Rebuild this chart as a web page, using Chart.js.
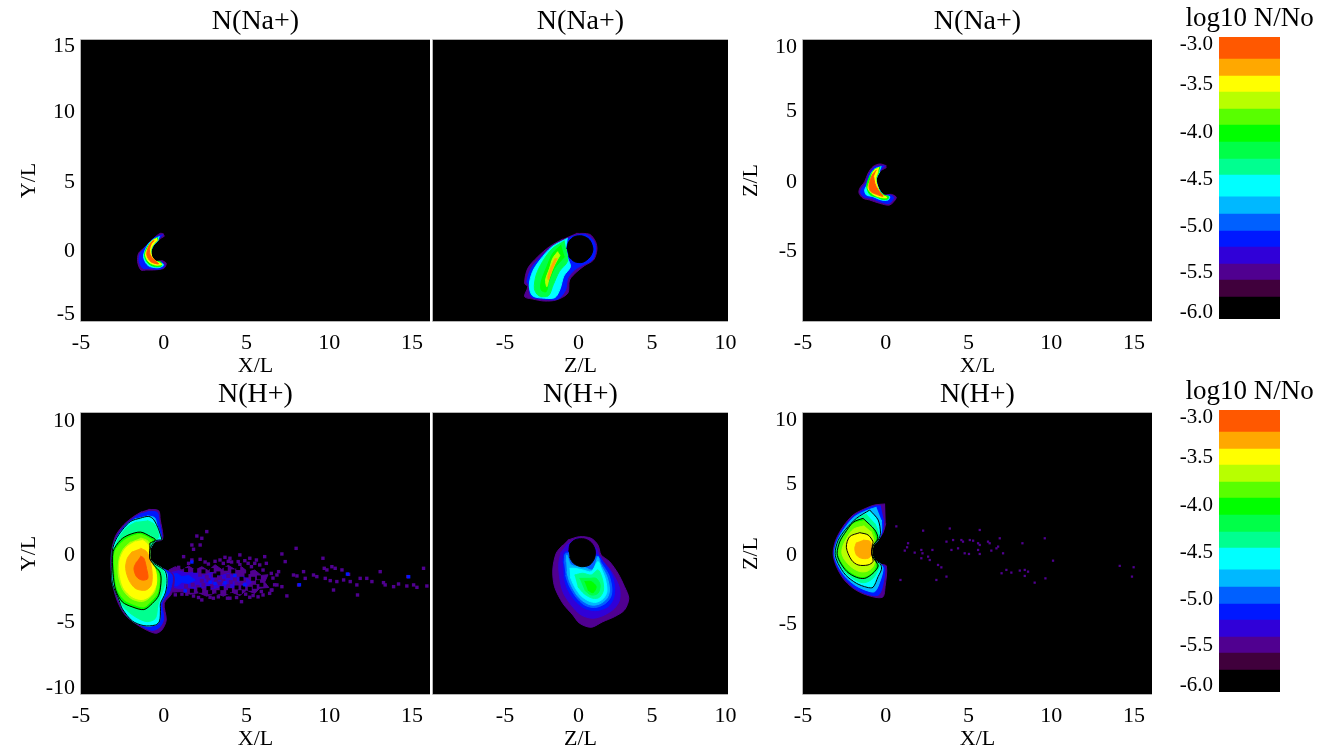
<!DOCTYPE html>
<html>
<head>
<meta charset="utf-8">
<title>N/No</title>
<script src="https://cdn.jsdelivr.net/npm/chart.js"></script>
<style>
  html, body { margin: 0; padding: 0; background: #fff; }
  body { position: relative; width: 1343px; height: 753px; overflow: hidden; }
  canvas { position: absolute; }
</style>
</head>
<body>
<script>
// colour table, bottom of the bar to the top
const levelColors = ['#000000', '#40003c', '#500090', '#3000d8', '#0018ff', '#0060ff', '#00b8ff', '#00ffff',
  '#00ff90', '#00ff48', '#00ff00', '#58ff00', '#b8ff00', '#ffff00', '#ffa800', '#ff5800'];
const levelEdges = [-6, -5.766, -5.585, -5.415, -5.234, -5.064, -4.883, -4.70, -4.468, -4.298, -4.117, -3.936,
  -3.766, -3.585, -3.415, -3.234, -3];
const barTicks = [-3.08, -3.51, -4.02, -4.52, -5.02, -5.51, -5.93];
const barLabels = ['-3.0', '-3.5', '-4.0', '-4.5', '-5.0', '-5.5', '-6.0'];

const xTicksLong = [-5, 0, 5, 10, 15];
const xLabelsLong = ['-5', '0', '5', '10', '15'];
const xTicksZ = [-5, 0, 5, 10];
const xLabelsZ = ['-5', '0', '5', '10'];
const yTicksNa = [15.18, 10.25, 5.03, -0.1, -4.82];
const yLabelsNa = ['15', '10', '5', '0', '-5'];
const yTicksZ = [9.95, 5.18, -0.1, -5.27];
const yLabelsZ = ['10', '5', '0', '-5'];
const yTicksH = [9.88, 5.1, -0.1, -5.12, -10.05];
const yLabelsH = ['10', '5', '0', '-5', '-10'];

// ---- N(Na+) X/Y ----
const naXY1 = [[0,1.19],[-.21,1.24],[-.61,.87],[-.92,.5],[-1.22,.12],[-1.52,-.25],[-1.58,-.87],[-1.38,-1.49],[-1.02,-1.49],[-.61,-1.49],[0,-1.37],[.15,-1],[-.11,-.8],[-.51,-.87],[-.72,-.62],[-.78,-.12],[-.61,.37],[-.31,.75],[.05,1.04]];
const naXY4 = [[-.05,1.14],[-.51,.95],[-.82,.62],[-1.18,.12],[-1.42,-.25],[-1.48,-.87],[-1.26,-1.37],[-.92,-1.37],[-.31,-1.44],[.03,-1.24],[-.11,-.9],[-.51,-.92],[-.72,-.62],[-.78,-.12],[-.61,.37],[-.31,.75]];
const naXY7 = [[-.25,1],[-.61,.8],[-.92,.45],[-1.12,0],[-1.22,-.5],[-1.06,-1],[-.82,-1.24],[-.31,-1.32],[-.01,-1.12],[-.25,-.92],[-.51,-.87],[-.74,-.5],[-.78,-.12],[-.61,.37],[-.31,.75]];
const naXY10 = [[-.37,.93],[-.68,.72],[-1,.2],[-1.16,-.4],[-.98,-.95],[-.6,-1.22],[-.15,-1.2],[-.2,-.87],[-.51,-.83],[-.73,-.5],[-.78,-.1],[-.63,.37],[-.33,.75]];
const naXY13 = [[-.41,.87],[-.71,.67],[-.98,.12],[-1.1,-.37],[-.92,-.87],[-.51,-1.12],[-.11,-1.07],[-.51,-.8],[-.71,-.5],[-.78,-.05],[-.65,.37],[-.37,.75]];
const naXY15 = [[-.65,.7],[-.92,.25],[-1.02,-.37],[-.78,-.87],[-.31,-1.04],[-.61,-.7],[-.82,-.37],[-.86,.05],[-.74,.5],[-.57,.7]];

// ---- N(Na+) Z/Y ----
const naZY1 = [[-.16,1.24],[.75,1.17],[1.16,.62],[1.25,0],[1.02,-.75],[.41,-1.17],[-.11,-1.62],[-.61,-2.24],[-.73,-3.23],[-1.52,-3.73],[-2.31,-3.81],[-3.11,-3.66],[-3.67,-3.48],[-3.45,-2.74],[-3.67,-2.49],[-3.45,-1.37],[-2.77,-.5],[-1.97,.25],[-1.07,.82]];
const naZY4 = [[-.5,1],[.41,1.17],[1.02,.67],[1.16,0],[.93,-.75],[.29,-1.12],[-.27,-1.49],[-.73,-2.11],[-.88,-2.99],[-1.41,-3.66],[-2.43,-3.66],[-3.22,-3.48],[-3.38,-2.61],[-3.51,-2.36],[-3.22,-1.37],[-2.65,-.62],[-1.86,.17],[-.95,.75]];
const naZY7 = [[-.73,.88],[-1.8,.25],[-2.62,-.75],[-3.12,-1.6],[-3.35,-2.65],[-3.12,-3.42],[-2.31,-3.6],[-1.6,-3.55],[-1.25,-2.9],[-1,-1.95],[-.55,-1.25],[-.73,-.62],[-.84,.07]];
const naZY9 = [[-.95,.68],[-1.8,.08],[-2.45,-.87],[-2.88,-1.87],[-3,-2.9],[-2.7,-3.42],[-2.05,-3.42],[-1.72,-2.6],[-1.3,-1.6],[-.75,-.85],[-.84,.07]];
const naZY10 = [[-1.18,.37],[-1.75,-.25],[-2.15,-1.24],[-2.54,-2.36],[-2.54,-2.99],[-2.2,-3.11],[-2.02,-2.36],[-1.63,-1.37],[-.95,-.5]];
const naZY12 = [[-1.41,-.12],[-1.75,-.62],[-1.97,-1.37],[-2.24,-2.24],[-2.15,-2.74],[-1.97,-1.99],[-1.63,-1.12],[-1.25,-.37]];
const naZY14 = [[-1.59,-.62],[-1.86,-1.24],[-2.09,-1.99],[-2.04,-2.24],[-1.75,-1.37],[-1.45,-.62]];
const naZYhole = [[-.79,.07],[-.66,.62],[-.27,1],[.29,1.04],[.75,.75],[.98,.07],[.79,-.5],[.29,-.92],[-.27,-.87],[-.66,-.5]];

// ---- N(Na+) X/Z ----
const naXZ1 = [[.04,1.14],[-.36,1.27],[-.77,1.07],[-1.07,.57],[-1.27,-.05],[-1.57,-.55],[-1.61,-.92],[-1.37,-1.29],[-.97,-1.42],[-.36,-1.67],[.24,-1.79],[.64,-1.24],[.34,-1],[-.06,-1.04],[-.32,-.8],[-.52,-.3],[-.56,.2],[-.36,.7],[.04,1]];
const naXZ4 = [[-.06,1.12],[-.66,1.04],[-1.01,.5],[-1.17,-.1],[-1.47,-.6],[-1.51,-.92],[-1.27,-1.22],[-.87,-1.29],[-.36,-1.54],[.2,-1.67],[.48,-1.24],[.24,-1.04],[-.06,-1.09],[-.32,-.8],[-.52,-.3],[-.56,.2],[-.36,.7]];
const naXZ7 = [[-.26,1.07],[-.66,.9],[-.93,.45],[-1.07,-.17],[-1.27,-.67],[-1.17,-1.04],[-.77,-1.17],[-.26,-1.42],[.14,-1.42],[.24,-1.17],[-.06,-1.09],[-.32,-.8],[-.52,-.3],[-.56,.2],[-.36,.7]];
const naXZ10 = [[-.33,1.03],[-.7,.83],[-1,.25],[-1.15,-.4],[-.95,-1.02],[-.5,-1.22],[-.2,-1.38],[.12,-1.35],[.16,-1.15],[-.1,-1.06],[-.34,-.8],[-.54,-.3],[-.58,.2],[-.4,.7]];
const naXZ13 = [[-.4,1],[-.73,.75],[-.93,.07],[-1.07,-.55],[-.77,-1],[-.26,-1.24],[.08,-1.24],[-.26,-1],[-.46,-.55],[-.6,.15],[-.46,.7]];
const naXZ15 = [[-.56,.82],[-.81,.45],[-1.01,-.3],[-.93,-.75],[-.56,-1],[-.16,-1.14],[-.46,-.67],[-.66,-.17],[-.73,.32]];

// ---- N(H+) X/Y ----
const hXY1 = [[-.92,3.33],[-.31,3.23],[-.21,2.54],[-.05,1.42],[-.11,1.04],[-.51,.92],[-.82,.42],[-.86,-.32],[-.61,-.7],[-.21,-1],[.59,-1.57],[.49,-2.94],[.03,-3.68],[.15,-4.93],[-.11,-5.67],[-.51,-5.92],[-1.42,-5.42],[-2.33,-4.55],[-2.83,-3.43],[-3.13,-1.94],[-3.19,-.2],[-2.93,1.29],[-2.43,2.16],[-1.82,2.79],[-1.32,3.16]];
const hXY3 = [[-.96,3.18],[-.4,3.1],[-.28,2.43],[-.12,1.42],[-.16,1.1],[-.5,.98],[-.8,.43],[-.84,-.33],[-.6,-.7],[-.2,-1],[.5,-1.58],[.36,-2.83],[-.1,-3.65],[0,-4.83],[-.24,-5.45],[-.7,-5.7],[-1.4,-5.33],[-2.24,-4.45],[-2.7,-3.45],[-3.04,-1.95],[-3.1,-.2],[-2.84,1.25],[-2.36,2.1],[-1.76,2.73],[-1.3,3.05]];
const hXY5 = [[-1,2.85],[-.55,2.7],[-.4,2.1],[-.22,1.25],[-.5,1],[-.8,.43],[-.84,-.33],[-.6,-.7],[-.2,-1],[.2,-1.45],[.15,-2.6],[-.2,-3.5],[-.2,-4.6],[-.45,-5.15],[-.9,-5.4],[-1.5,-5.1],[-2.3,-4.3],[-2.75,-3.3],[-3.02,-1.9],[-3.07,-.2],[-2.8,1.2],[-2.3,2.05],[-1.7,2.65]];
const hXY7 = [[-.1,1.05],[-.3,1.8],[-.6,2.55],[-.9,2.8],[-1.4,2.68],[-2,2.43],[-2.5,1.8],[-2.9,1.05],[-3.1,.3],[-3.14,-.95],[-3.1,-2.2],[-2.7,-3.45],[-2.5,-4.1],[-1.9,-5],[-1.2,-5.35],[-.5,-5.3],[-.25,-5],[-.2,-4.1],[-.2,-3.7],[.1,-2.9],[.2,-2],[.1,-1.3],[-.2,-1],[-.6,-.7],[-.84,-.33],[-.8,.43],[-.5,.98]];
const hXY8 = [[-1,2.5],[-.55,2.2],[-.3,1.3],[-.5,1],[-.8,.43],[-.84,-.33],[-.6,-.7],[-.1,-1.1],[.1,-2],[-.1,-2.9],[-.35,-3.8],[-.5,-4.8],[-1,-5.05],[-1.7,-4.7],[-2.4,-4],[-2.8,-3.1],[-3.03,-1.8],[-3.05,-.2],[-2.75,1.1],[-2.25,1.95],[-1.65,2.4]];
const hXY10 = [[-.84,.8],[-.5,1.05],[-.8,1.3],[-1.4,1.63],[-2.1,1.43],[-2.6,1.05],[-3.06,.18],[-3.06,-1.45],[-2.9,-2.7],[-2.5,-3.58],[-1.9,-3.95],[-1.2,-4.15],[-.7,-3.7],[-.3,-3.08],[-.16,-1.95],[-.24,-1.33],[-.6,-.83],[-.84,-.33],[-.84,.43]];
const hXY11 = [[-.84,.8],[-.7,1],[-1.4,1.45],[-2.05,1.25],[-2.5,.9],[-2.95,.15],[-2.95,-1.4],[-2.8,-2.6],[-2.4,-3.4],[-1.85,-3.75],[-1.2,-3.95],[-.75,-3.5],[-.4,-2.95],[-.26,-1.95],[-.35,-1.35],[-.65,-.9],[-.84,-.33],[-.84,.43]];
const hXY12 = [[-1.4,1.2],[-.95,.95],[-.84,.43],[-.84,-.33],[-.6,-1],[-.45,-1.9],[-.55,-2.8],[-1,-3.4],[-1.4,-3.55],[-2,-3.3],[-2.5,-2.6],[-2.75,-1.5],[-2.7,-.4],[-2.45,.35],[-2,.9]];
const hXY13 = [[-1.3,1.05],[-.96,.68],[-.84,-.33],[-.5,-1.2],[-.44,-2.2],[-.8,-3.08],[-1.3,-3.4],[-1.9,-3.2],[-2.4,-2.58],[-2.64,-1.58],[-2.64,-.45],[-2.3,.43],[-1.7,.93]];
const hXY14 = [[-1.4,.43],[-1.04,.18],[-.84,-.45],[-.7,-1.45],[-.76,-2.33],[-1.1,-2.7],[-1.7,-2.58],[-2.1,-1.95],[-2.3,-1.08],[-2.2,-.33],[-1.9,.18]];
const hXY15 = [[-1.4,-.15],[-1.2,-.33],[-1.04,-1.08],[-.96,-1.83],[-1.3,-1.95],[-1.64,-1.7],[-1.8,-1.08],[-1.64,-.58]];
// tail behind the planet
const hTail2 = [[.3,-1.2],[.7,-.95],[1.1,-1.2],[1.5,-.9],[1.9,-1.2],[2.3,-.95],[2.7,-1.25],[3.1,-.8],[3.5,-1.15],[3.9,-.85],[4.3,-1.15],[4.7,-.95],[5.1,-1.35],[5.5,-1.2],[5.9,-1.6],[6.3,-1.55],[6.1,-2.1],[6.35,-2.5],[5.8,-2.55],[5.5,-2.95],[5,-2.7],[4.6,-3.1],[4.1,-2.85],[3.6,-3.15],[3.1,-2.9],[2.6,-3.15],[2.1,-2.9],[1.6,-3],[1.1,-2.8],[.6,-2.85],[.3,-2.5]];
const hTail3 = [[.4,-1.4],[.9,-1.25],[1.4,-1.45],[1.9,-1.35],[2.4,-1.6],[2.9,-1.4],[3.4,-1.65],[3.9,-1.45],[4.4,-1.75],[4.9,-1.7],[5.3,-2.1],[5,-2.45],[4.5,-2.35],[4,-2.6],[3.5,-2.4],[3,-2.6],[2.5,-2.45],[2,-2.6],[1.5,-2.5],[1,-2.6],[.4,-2.45]];
const hTail4 = [[.4,-1.55],[.8,-1.45],[1.1,-1.7],[1.5,-1.6],[1.9,-1.95],[1.5,-2.2],[1.1,-2.1],[.8,-2.4],[.4,-2.3]];
const hTailMix = [[2.2,-1.55],[2.6,-1.7],[3,-1.6],[3.4,-1.8],[3.9,-1.65],[4.3,-1.9],[4.7,-2.1],[4.4,-2.2],[3.9,-2.4],[3.4,-2.2],[2.9,-2.4],[2.4,-2.3],[2.05,-2.45],[2.7,-1.95],[3.15,-2.05],[3.6,-2],[4.05,-2.1],[2.3,-2],[1.75,-2.3],[1.35,-2.4],[4.85,-1.95],[4.6,-2.3],[3.2,-1.8]];
const hTailPurple = [[2.6,1.67],[2.3,1.17],[2,1.34],[1.7,.67],[2.2,.67],[1.8,.35],[1.2,-.2],[1.7,-.45],[2.2,-.4],[3.7,-.25],[4,-.32],[4.6,-.07],[4.5,-.57],[5.2,-.32],[5.6,-.45],[6.1,-.2],[6.2,-.7],[5.8,-.82],[8,.42],[5.1,-.7],[1.5,-.7],[2.7,-.75],[3.1,-.55],[3.6,-.7],[4.1,-.6],[4.6,-.8],[5.3,-.95],[6,-1.2],[6.5,-1.45],[2.3,-3.43],[4,-3.3],[4.7,-3.56],[5.2,-3.23],[6,-3.06],[6.4,-2.94],[2.8,-3.23],[1.8,-3.14],[1.4,-3],[3.3,-3.2],[4.4,-3.25],[5.4,-3.1],[.9,-1],[2.5,-.6],[3.4,-.45],[3.9,-.55],[4.9,-.5],[5.5,-.7],[6.6,-1.8],[6.7,-2.3],[6.5,-2.7],[5.9,-2.8],[5.7,-3.2],[4.95,-3],[3.85,-3.3],[3,-3.3],[2.1,-3.25],[1.1,-3],[.7,-3.05],
  [7.14,0],[7.34,-.57],[6.84,-1.57],[6.94,-1.32],[7.84,-1.57],[8.05,-1.64],[8.45,-1.32],[8.55,-1.82],[9.05,-1.57],[9.25,-1.69],[9.62,-.32],[9.7,-1.07],[9.86,-1.19],[9.76,-1.82],[10.16,-.95],[10.36,-1.07],[10.77,-1.19],[10.06,-1.99],[10.46,-2.06],[10.87,-1.94],[11.27,-2.06],[11.17,-1.52],[11.87,-1.82],[12.27,-1.82],[12.58,-2.06],[11.67,-2.31],[11.71,-3.06],[13.28,-2.14],[13.38,-2.31],[13.89,-2.44],[14.19,-2.24],[14.69,-2.39],[15.1,-2.31],[15.3,-2.49],[15.9,-2.39],[14.75,-1.69],[13.08,-1.32],[15.7,-1.07],[10.26,-2.69],[8.15,-2.31],[7.44,-3.13],[7.14,-2.44],[6.54,-2.69],[6.84,-2.31]];
const hTailBlue = [[1.7,-.6],[4.3,-1.6],[4.9,-2.3],[3.1,-2.2],[11.1,-1.5],[8.2,-2.3],[14.8,-1.7],[2.8,-2.1],[3.7,-2.15],[1.3,-2.75]];
const hTailGaps = [[2.4,-1.3],[2.9,-1.2],[3.3,-1.45],[4.2,-1.3],[5,-1.6],[5.4,-1.85],[5.7,-2.1],[5.5,-2.45],[5.2,-2.6],[4.6,-2.85],[4,-2.7],[3.3,-2.85],[2.8,-2.85],[2.2,-2.75],[1.7,-2.75],[3.5,-2.55],[2.7,-2.55],[4.4,-2.5],[3.1,-1.6],[4.7,-1.85],[1.9,-1.25],[5.9,-2.3],[5.75,-1.75],[1.35,-1.2],[3.75,-1.1],[4.5,-1.05],[2.15,-2.65],[4.8,-2.5],[5.1,-1.35],[3.9,-2.85]];

// ---- N(H+) Z/Y ----
const hZY1 = [[-.73,1.04],[.07,1.29],[.86,1.17],[1.32,.67],[1.54,-.07],[2.11,-.57],[2.68,-1.44],[3.13,-2.44],[3.42,-3.31],[3.13,-4.18],[2.45,-4.68],[1.66,-5.05],[.86,-5.47],[.07,-5.17],[-.39,-4.55],[-1.07,-3.68],[-1.63,-2.44],[-1.75,-1.19],[-1.52,.05],[-1.07,.67]];
const hZY2 = [[-.84,.67],[.07,1.17],[1.2,.42],[1.47,-.32],[2,-.95],[2.45,-1.69],[2.79,-2.56],[2.79,-3.43],[2.45,-4.05],[1.77,-4.55],[.98,-4.8],[.18,-4.55],[-.5,-3.81],[-1.07,-2.81],[-1.29,-1.69],[-1.34,-.7],[-1.18,.17]];
const hZY3 = [[-1.07,-.57],[-.88,.17],[1.32,-.07],[1.66,-.57],[2.22,-1.44],[2.45,-2.44],[2.38,-3.31],[2,-3.93],[1.2,-4.23],[.41,-4.05],[-.27,-3.43],[-.77,-2.56],[-1,-1.69]];
const hZY4 = [[-.98,-.7],[-.84,.05],[1.32,-.2],[1.54,-.65],[2.06,-1.57],[2.27,-2.56],[2.18,-3.23],[1.77,-3.73],[1.09,-4],[.41,-3.81],[-.16,-3.23],[-.66,-2.31],[-.88,-1.57]];
const hZY6 = [[-.84,-.57],[-.79,-.07],[-.5,-.82],[.29,-.95],[.98,-1.19],[1.32,-.2],[1.47,-.7],[1.93,-1.69],[2.11,-2.69],[1.93,-3.31],[1.43,-3.73],[.86,-3.81],[.29,-3.51],[-.16,-2.99],[-.61,-2.06],[-.79,-1.32]];
const hZY7 = [[-.61,-1.07],[-.27,-1.07],[.29,-1.19],[.86,-1.32],[1.32,-.57],[1.54,-1.07],[1.84,-1.94],[1.93,-2.81],[1.7,-3.31],[1.2,-3.61],[.7,-3.51],[.18,-3.13],[-.27,-2.44],[-.57,-1.69]];
const hZY8 = [[-.27,-1.57],[.29,-1.44],[.86,-1.57],[1.32,-1.19],[1.61,-1.81],[1.7,-2.69],[1.43,-3.23],[.98,-3.31],[.41,-2.99],[-.05,-2.44]];
const hZY9 = [[.07,-1.82],[.75,-1.82],[1.2,-1.82],[1.47,-2.31],[1.32,-2.94],[.86,-3.06],[.41,-2.69]];
const hZY10 = [[.41,-2.06],[.86,-2.06],[1.2,-2.44],[.98,-2.89],[.63,-2.69]];
const hZYhole = [[-.66,.17],[-.57,.75],[-.16,1.09],[.41,1.12],[.86,.85],[1.13,.3],[1.09,-.32],[.75,-.82],[.18,-.95],[-.34,-.7],[-.61,-.25]];

// ---- N(H+) X/Z ----
const hXZ1 = [[-.04,3.73],[-.66,3.66],[-1.17,3.43],[-1.97,2.91],[-2.58,2.04],[-3.02,1.04],[-3.18,.05],[-3.02,-.82],[-2.58,-1.82],[-1.97,-2.56],[-1.17,-3.06],[-.2,-3.23],[-.04,-2.44],[.04,-.9],[-.32,-.75],[-.66,-.45],[-.85,.05],[-.77,.6],[-.46,1.04],[-.16,1.59],[0,2.29]];
const hXZ3 = [[-.3,3.58],[-.66,3.58],[-1.13,3.38],[-1.93,2.84],[-2.54,1.99],[-2.98,1],[-3.14,.05],[-2.98,-.8],[-2.54,-1.74],[-1.93,-2.49],[-1.13,-2.99],[-.46,-3.08],[-.2,-2.44],[-.06,-1],[-.32,-.75],[-.66,-.45],[-.85,.05],[-.77,.6],[-.46,1.04],[-.2,1.67],[-.12,2.54]];
const hXZ5 = [[-.56,3.48],[-1.07,3.28],[-1.87,2.79],[-2.48,1.92],[-2.92,1],[-3.1,.05],[-2.92,-.75],[-2.48,-1.64],[-1.87,-2.31],[-1.13,-2.74],[-.66,-2.81],[-.32,-1.94],[-.16,-1.07],[-.32,-.75],[-.66,-.45],[-.85,.05],[-.77,.6],[-.46,1.04],[-.26,1.67],[-.26,2.54]];
const hXZ7 = [[-.97,3.28],[-1.77,2.66],[-2.42,1.84],[-2.88,1],[-3.06,.05],[-2.88,-.7],[-2.42,-1.57],[-1.77,-2.19],[-1.13,-2.49],[-.77,-2.49],[-.46,-1.69],[-.26,-1.14],[-.32,-.75],[-.66,-.45],[-.85,.05],[-.77,.6],[-.46,1.04],[-.32,1.54],[-.46,2.54]];
const hXZ8 = [[-1.17,2.99],[-1.77,2.59],[-2.38,1.79],[-2.84,1],[-3.02,.05],[-2.84,-.65],[-2.38,-1.44],[-1.77,-1.99],[-1.27,-2.14],[-.77,-1.82],[-.46,-1.19],[-.36,-.82],[-.66,-.45],[-.85,.05],[-.77,.6],[-.46,1.09],[-.46,1.67],[-.66,2.29]];
const hXZ9 = [[-1.37,2.66],[-1.97,2.36],[-2.48,1.54],[-2.78,.92],[-2.94,.05],[-2.78,-.57],[-2.34,-1.32],[-1.77,-1.74],[-1.27,-1.82],[-.77,-1.44],[-.46,-.9],[-.66,-.45],[-.85,.05],[-.77,.6],[-.48,1.17],[-.66,1.79]];
const hXZ11 = [[-1.27,2.49],[-1.97,2.24],[-2.42,1.54],[-2.74,.8],[-2.86,.05],[-2.7,-.5],[-2.28,-1.19],[-1.67,-1.64],[-1.17,-1.64],[-.77,-1.27],[-.6,-.75],[-.77,-.32],[-.85,.05],[-.77,.6],[-.6,1.09],[-.87,2.04]];
const hXZ12 = [[-1.3,2.1],[-1.95,1.85],[-2.35,1.2],[-2.6,.55],[-2.65,.05],[-2.5,-.4],[-2.1,-.95],[-1.6,-1.3],[-1.15,-1.3],[-.8,-1],[-.68,-.6],[-.8,-.2],[-.85,.05],[-.77,.6],[-.72,1],[-.9,1.7]];
const hXZ13 = [[-1.57,1.59],[-2.18,1.29],[-2.38,.5],[-2.07,-.45],[-1.67,-.82],[-1.07,-.82],[-.77,-.57],[-.83,-.07],[-.81,.67],[-.77,.92],[-1.07,1.42]];
const hXZ14 = [[-1.77,.85],[-1.87,.42],[-1.77,-.07],[-1.47,-.32],[-1.07,-.32],[-.87,-.07],[-.87,.42],[-.93,.92],[-1.37,1.04]];
const hXZspots = [[.64,2.06],[2.26,1.74],[3.87,1.9],[5.68,1.79],[3.67,.92],[4.07,1.04],[4.57,1.04],[4.67,.92],[5.08,1.04],[5.28,.99],[5.58,.8],[5.68,.67],[6.18,.92],[6.28,.8],[6.89,1.17],[6.79,.55],[6.69,.42],[6.38,.25],[7.09,.05],[5.68,0],[5.58,.3],[4.37,.42],[3.97,.3],[4.77,.05],[5.03,0],[1.35,.8],[1.15,.25],[1.29,.5],[1.75,.1],[2.15,.3],[2.22,.05],[2.15,-.32],[2.56,-.2],[2.66,-.45],[2.82,.3],[3.16,-.82],[3.36,-1],[3.67,-1.69],[3.06,-1.94],[.89,-1.94],[7,-1.44],[7.29,-1.19],[7.59,-1.39],[8.1,-1.24],[8.4,-1.19],[8.6,-1.32],[8.4,-1.64],[9,-2.14],[9.65,-1.82],[10.11,-.5],[9.61,1.17],[8.26,.8],[14.14,-.89],[14.98,-.99],[14.88,-1.69]];

const chartFont = 'Liberation Serif';

// black background and the thin axis line around a panel
const plotFrame = {
  id: 'plotFrame',
  beforeDatasetsDraw(chart) {
    if (!chart.options.plugins.plotFrame.on) return;
    const {ctx, chartArea: a} = chart;
    ctx.save();
    ctx.fillStyle = '#000';
    ctx.fillRect(a.left, a.top, a.width, a.height);
    ctx.restore();
  },
  beforeDraw(chart) {
    if (!chart.options.plugins.plotFrame.on) return;
    const {ctx, chartArea: a} = chart;
    ctx.save();
    ctx.strokeStyle = '#b4b4b4';
    ctx.lineWidth = 1;
    ctx.beginPath();
    ctx.moveTo(a.right, a.top - 0.5);
    ctx.lineTo(a.left - 0.5, a.top - 0.5);
    ctx.lineTo(a.left - 0.5, a.bottom + 0.5);
    ctx.lineTo(a.right, a.bottom + 0.5);
    ctx.stroke();
    ctx.restore();
  }
};
Chart.register(plotFrame);

const toPts = arr => arr.map(p => ({x: p[0], y: p[1]}));

function fillLayer(level, pts, tension) {
  return {
    data: toPts(pts), showLine: true, fill: 'shape', tension: tension === undefined ? 0.3 : tension,
    backgroundColor: levelColors[level], borderColor: levelColors[level], borderWidth: 1, pointRadius: 0
  };
}
function contourLine(pts) {
  return {
    data: toPts(pts.concat([pts[0]])), showLine: true, fill: false, tension: 0.3,
    borderColor: '#000', borderWidth: 1, pointRadius: 0
  };
}
function speckle(level, pts, r) {
  return {
    data: toPts(pts), showLine: false, pointStyle: 'rect', pointRadius: r || 2.4,
    pointBackgroundColor: levelColors[level], pointBorderWidth: 0
  };
}

const M = 80, MT = 40, MB = 60;

function addCanvas(l, t, w, h) {
  const c = document.createElement('canvas');
  c.width = w; c.height = h;
  c.style.left = l + 'px'; c.style.top = t + 'px';
  c.style.width = w + 'px'; c.style.height = h + 'px';
  document.body.appendChild(c);
  return c;
}

// empty axis on the right keeps the title centred over the plot
const spacerAxis = w => ({
  position: 'right', grid: {display: false, drawTicks: false}, border: {display: false},
  ticks: {display: false}, afterFit: s => { s.width = w; }
});

// layers come bottom first, chart.js paints the first dataset last so flip them
function panel(o) {
  const w = o.r - o.l, h = o.b - o.t;
  const c = addCanvas(o.l - M, o.t - MT, w + 2 * M, h + MT + MB);
  return new Chart(c, {
    type: 'scatter',
    data: {datasets: o.layers.slice().reverse()},
    options: {
      responsive: false, animation: false, events: [],
      plugins: {
        legend: {display: false}, tooltip: {enabled: false},
        plotFrame: {on: true},
        title: {display: true, text: o.title, color: '#000', padding: {top: 8, bottom: 4},
          font: {family: chartFont, size: 28, weight: 'normal', lineHeight: 1}}
      },
      scales: {
        x: {
          type: 'linear', min: o.xMin, max: o.xMax,
          grid: {display: false, drawTicks: false}, border: {display: false},
          afterFit: s => { s.height = MB; },
          afterBuildTicks: s => { s.ticks = o.xTicks.map(v => ({value: v})); },
          ticks: {color: '#000', maxRotation: 0, autoSkip: false, padding: 9,
            font: {family: chartFont, size: 22}, callback: (v, i) => o.xLabels[i]},
          title: {display: true, text: o.xTitle, color: '#000', padding: {top: 0, bottom: 4},
            font: {family: chartFont, size: 22, lineHeight: 1}}
        },
        y: {
          type: 'linear', min: o.yMin, max: o.yMax,
          grid: {display: false, drawTicks: false}, border: {display: false},
          afterFit: s => { s.width = M; },
          afterBuildTicks: s => { s.ticks = (o.yTicks || []).map(v => ({value: v})); },
          ticks: {display: !!o.yTicks, color: '#000', autoSkip: false, padding: 6,
            font: {family: chartFont, size: 22}, callback: (v, i) => o.yLabels[i]},
          title: {display: !!o.yTitle, text: o.yTitle, color: '#000', padding: {top: 17, bottom: 0},
            font: {family: chartFont, size: 22, lineHeight: 1}}
        },
        pad: spacerAxis(M)
      }
    }
  });
}

function colorBar(top) {
  const l = 1219, r = 1280, t = top, b = top + 282, ML = 80;
  const c = addCanvas(l - ML, t - 37, (r - l) + 2 * ML, (b - t) + 37 + 20);
  const sets = levelColors.map((col, i) => ({
    data: [[levelEdges[i], levelEdges[i + 1]]], backgroundColor: col, borderWidth: 0,
    barPercentage: 1, categoryPercentage: 1, grouped: false
  }));
  return new Chart(c, {
    type: 'bar',
    data: {labels: [''], datasets: sets},
    options: {
      responsive: false, animation: false, events: [],
      layout: {padding: {bottom: 20}},
      plugins: {
        legend: {display: false}, tooltip: {enabled: false},
        title: {display: true, text: 'log10 N/No', color: '#000', padding: {top: 5, bottom: 5},
          font: {family: chartFont, size: 27, weight: 'normal', lineHeight: 1}}
      },
      scales: {
        x: {display: false},
        y: {
          min: -6, max: -3, grid: {display: false, drawTicks: false}, border: {display: false},
          afterFit: s => { s.width = ML; },
          afterBuildTicks: s => { s.ticks = barTicks.map(v => ({value: v})); },
          ticks: {color: '#000', autoSkip: false, padding: 6,
            font: {family: chartFont, size: 21}, callback: (v, i) => barLabels[i]}
        },
        pad: spacerAxis(ML)
      }
    }
  });
}

panel({title: 'N(Na+)', l: 81, r: 430, t: 40, b: 321, xMin: -5, xMax: 16.09, yMin: -5.3, yMax: 15.67,
  xTicks: xTicksLong, xLabels: xLabelsLong, yTicks: yTicksNa, yLabels: yLabelsNa, xTitle: 'X/L', yTitle: 'Y/L',
  layers: [fillLayer(2, naXY1), fillLayer(4, naXY4), fillLayer(7, naXY7), fillLayer(10, naXY10), fillLayer(13, naXY13), fillLayer(15, naXY15)]});

panel({title: 'N(Na+)', l: 433, r: 728, t: 40, b: 321, xMin: -9.9, xMax: 10.17, yMin: -5.3, yMax: 15.67,
  xTicks: xTicksZ, xLabels: xLabelsZ, xTitle: 'Z/L',
  layers: [fillLayer(2, naZY1), fillLayer(4, naZY4), fillLayer(7, naZY7), fillLayer(9, naZY9), fillLayer(10, naZY10), fillLayer(12, naZY12), fillLayer(14, naZY14), fillLayer(0, naZYhole)]});

panel({title: 'N(Na+)', l: 803, r: 1152, t: 40, b: 321, xMin: -5, xMax: 16.09, yMin: -10.45, yMax: 10.52,
  xTicks: xTicksLong, xLabels: xLabelsLong, yTicks: yTicksZ, yLabels: yLabelsZ, xTitle: 'X/L', yTitle: 'Z/L',
  layers: [fillLayer(2, naXZ1), fillLayer(4, naXZ4), fillLayer(7, naXZ7), fillLayer(10, naXZ10), fillLayer(13, naXZ13), fillLayer(15, naXZ15)]});

panel({title: 'N(H+)', l: 81, r: 430, t: 413, b: 694, xMin: -5, xMax: 16.09, yMin: -10.45, yMax: 10.52,
  xTicks: xTicksLong, xLabels: xLabelsLong, yTicks: yTicksH, yLabels: yLabelsH, xTitle: 'X/L', yTitle: 'Y/L',
  layers: [fillLayer(2, hTail2, 0), fillLayer(3, hTail3, 0), fillLayer(4, hTail4, 0), speckle(2, hTailPurple), speckle(2, hTailMix, 2.8), speckle(0, hTailGaps, 2.8), speckle(4, hTailBlue),
    fillLayer(2, hXY1), fillLayer(4, hXY3), fillLayer(6, hXY5), fillLayer(7, hXY7), fillLayer(8, hXY8), fillLayer(10, hXY10), fillLayer(11, hXY11), fillLayer(12, hXY12), fillLayer(13, hXY13), fillLayer(14, hXY14), fillLayer(15, hXY15),
    contourLine(hXY7), contourLine(hXY10)]});

panel({title: 'N(H+)', l: 433, r: 728, t: 413, b: 694, xMin: -9.9, xMax: 10.17, yMin: -10.45, yMax: 10.52,
  xTicks: xTicksZ, xLabels: xLabelsZ, xTitle: 'Z/L',
  layers: [fillLayer(2, hZY1), fillLayer(3, hZY2), fillLayer(4, hZY3), fillLayer(5, hZY4), fillLayer(6, hZY6), fillLayer(7, hZY7), fillLayer(8, hZY8), fillLayer(9, hZY9), fillLayer(10, hZY10), fillLayer(0, hZYhole)]});

panel({title: 'N(H+)', l: 803, r: 1152, t: 413, b: 694, xMin: -5, xMax: 16.09, yMin: -10.45, yMax: 10.52,
  xTicks: xTicksLong, xLabels: xLabelsLong, yTicks: yTicksZ, yLabels: yLabelsZ, xTitle: 'X/L', yTitle: 'Z/L',
  layers: [speckle(2, hXZspots, 1.6), fillLayer(2, hXZ1), fillLayer(4, hXZ3), fillLayer(6, hXZ5), fillLayer(7, hXZ7), fillLayer(8, hXZ8), fillLayer(10, hXZ9), fillLayer(11, hXZ11), fillLayer(12, hXZ12), fillLayer(13, hXZ13), fillLayer(14, hXZ14),
    contourLine(hXZ7), contourLine(hXZ9), contourLine(hXZ13)]});

colorBar(37);
colorBar(410);
</script>
</body>
</html>
